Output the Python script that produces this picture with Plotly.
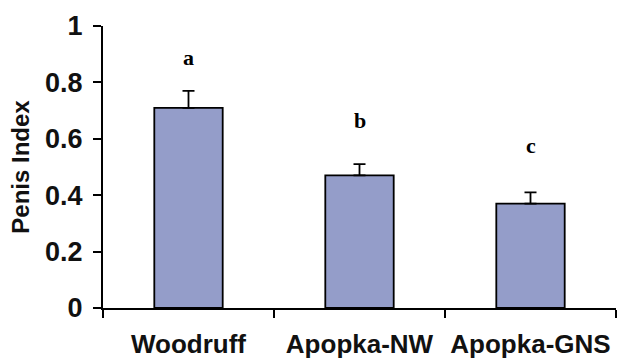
import plotly.graph_objects as go

# Penis index by site (mean + SE)
sites = ["Woodruff", "Apopka-NW", "Apopka-GNS"]
penis_index = [0.71, 0.47, 0.37]
std_error = [0.06, 0.04, 0.04]
sig_letters = ["a", "b", "c"]
letter_y = [0.89, 0.666, 0.577]
y_ticks = [0, 0.2, 0.4, 0.6, 0.8, 1]
y_tick_text = ["0", "0.2", "0.4", "0.6", "0.8", "1"]

BAR_COLOR = "#949dc9"
SANS = "Liberation Sans, Arial, sans-serif"
SERIF = "Liberation Serif, Times New Roman, serif"

fig = go.Figure()
fig.add_trace(go.Bar(
    x=sites,
    y=penis_index,
    width=0.4,
    marker=dict(color=BAR_COLOR, line=dict(color="black", width=1.8)),
    error_y=dict(
        type="data", symmetric=False,
        array=std_error, arrayminus=[0] * len(std_error),
        color="black", thickness=1.8, width=6,
    ),
))

for site, letter, ly in zip(sites, sig_letters, letter_y):
    fig.add_annotation(
        x=site, y=ly, text=f"<b>{letter}</b>", showarrow=False,
        font=dict(family=SERIF, size=22, color="black"),
        xanchor="center", yanchor="middle",
    )

fig.update_layout(
    width=617, height=362,
    margin=dict(l=103, r=1, t=26, b=54),
    paper_bgcolor="white", plot_bgcolor="white",
    showlegend=False,
    xaxis=dict(
        type="category", range=[-0.5, 2.5],
        showline=True, linecolor="black", linewidth=2,
        ticks="outside", tickson="boundaries", ticklen=8, tickwidth=2, tickcolor="black",
        tickfont=dict(family=SANS, size=26, color="#111111"),
        ticklabelstandoff=12,
        showgrid=False, zeroline=False,
    ),
    yaxis=dict(
        range=[0, 1],
        tickvals=y_ticks, ticktext=[f"<b>{t}</b>" for t in y_tick_text],
        showline=True, linecolor="black", linewidth=2,
        ticks="outside", ticklen=8, tickwidth=2, tickcolor="black",
        tickfont=dict(family=SANS, size=27, color="#111111"),
        ticklabelstandoff=5,
        showgrid=False, zeroline=False,
        title=dict(text="<b>Penis Index</b>", font=dict(family=SANS, size=24, color="#111111"), standoff=9),
    ),
)
fig.update_xaxes(ticktext=[f"<b>{s}</b>" for s in sites], tickvals=sites)

fig.write_html("out.html")
